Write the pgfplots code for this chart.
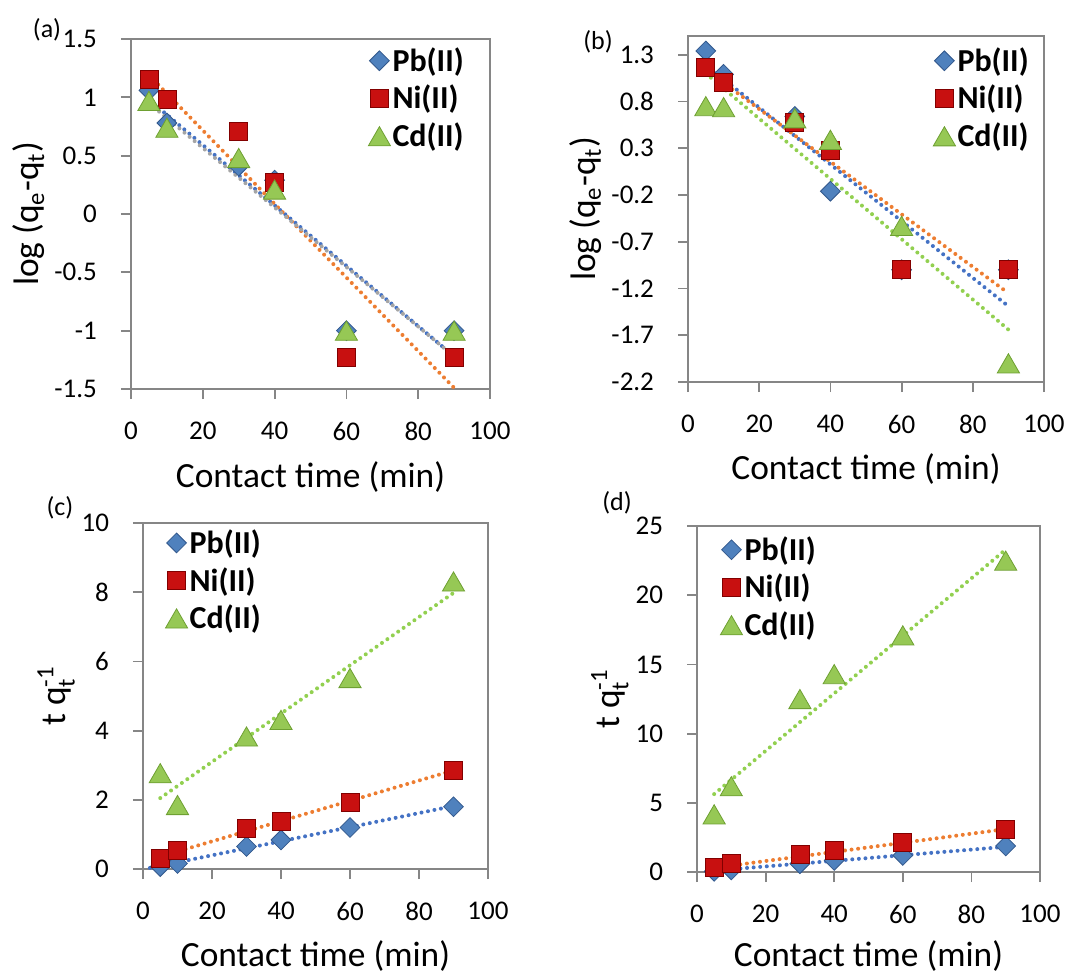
\documentclass[border=0pt]{standalone}
\usepackage{fontspec}
\setmainfont{Carlito}
\usepackage{amsmath}
\usepackage{pgfplots}
\pgfplotsset{compat=1.18}

\definecolor{axgray}{RGB}{134,134,134}
\definecolor{pbfill}{RGB}{79,129,189}
\definecolor{pbdraw}{RGB}{50,88,140}
\definecolor{nifill}{RGB}{200,16,16}
\definecolor{nidraw}{RGB}{130,0,0}
\definecolor{cdfill}{RGB}{150,200,85}
\definecolor{cddraw}{RGB}{110,160,50}
\definecolor{trblue}{RGB}{68,114,196}
\definecolor{trorange}{RGB}{237,125,49}
\definecolor{trgray}{RGB}{165,165,165}
\definecolor{trgreen}{RGB}{146,208,80}

\pgfplotsset{
  kin/.style={
    scale only axis,
    xmin=0, xmax=100, xtick={0,20,...,100},
    tick pos=left, tick align=outside, major tick length=5pt,
    axis line style={axgray, line width=0.9pt},
    every tick/.style={axgray, line width=0.9pt},
    /pgf/number format/assume math mode=true,
    tick label style={font=\fontsize{13.5}{16}\selectfont},
    xticklabel style={yshift=-8pt},
    yticklabel style={xshift=-8.5pt},
    label style={font=\fontsize{17.7}{20}\selectfont},
    xlabel={Contact time (min)},
    xlabel style={at={(axis description cs:0.5,-0.251)}, anchor=center},
    legend cell align=left,
    legend style={draw=none, fill=none, inner sep=0pt, anchor=north west,
      font=\fontsize{16}{18}\selectfont\bfseries, row sep=3.5pt,
      nodes={inner sep=1pt}},
    legend image code/.code={\draw[##1] plot coordinates {(0pt,0pt)};},
  },
  pb/.style={only marks, mark=square*, mark size=3.5pt,
    mark options={rotate=45, fill=pbfill, draw=pbdraw, line width=0.4pt}},
  ni/.style={only marks, mark=square*, mark size=4.5pt,
    mark options={fill=nifill, draw=nidraw, line width=0.4pt}},
  cd/.style={only marks, mark=triangle*, mark size=6.4pt,
    mark options={fill=cdfill, draw=cddraw, line width=0.4pt, yshift=-1.6pt}},
  trend/.style={line width=2pt, line cap=round, dash pattern=on 0pt off 3.3pt, forget plot},
}

\begin{document}
\begin{tikzpicture}
\useasboundingbox (0,0) rectangle (535pt,-487pt);

% (a) pseudo-first-order, sample 1
\begin{axis}[kin, at={(65.5pt,-194.5pt)}, anchor=south west,
    width=179.5pt, height=175pt,
    ymin=-1.5, ymax=1.5, ytick={-1.5,-1,...,1.5},
    ylabel={log (q$_{\text{e}}$-q$_{\text{t}}$)},
    ylabel style={at={(axis description cs:-0.284,0.5)}, anchor=center},
    legend style={at={(0.660,0.983)}}]
  \addplot[pb] coordinates {(5,1.06) (10,0.78) (30,0.41) (40,0.29) (60,-1.0) (90,-1.0)};
  \addplot[ni] coordinates {(5,1.15) (10,0.98) (30,0.71) (40,0.27) (60,-1.23) (90,-1.23)};
  \addplot[cd] coordinates {(5,0.97) (10,0.74) (30,0.48) (40,0.21) (60,-1.0) (90,-1.0)};
  \legend{Pb(II),Ni(II),Cd(II)}
  \addplot[trend, trblue] coordinates {(5,0.98) (90,-1.22)};
  \addplot[trend, trorange] coordinates {(5,1.19) (90,-1.49)};
  \addplot[trend, trgray] coordinates {(5,0.95) (90,-1.22)};
\end{axis}

% (b) pseudo-first-order, sample 2
\begin{axis}[kin, at={(344pt,-191pt)}, anchor=south west,
    width=178pt, height=173pt,
    ymin=-2.2, ymax=1.5, ytick={-2.2,-1.7,-1.2,-0.7,-0.2,0.3,0.8,1.3},
    yticklabels={-2.2,-1.7,-1.2,-0.7,-0.2,0.3,0.8,1.3},
    ylabel={log (q$_{\text{e}}$-q$_{\text{t}}$)},
    ylabel style={at={(axis description cs:-0.287,0.5)}, anchor=center},
    legend style={at={(0.688,0.974)}}]
  \addplot[pb] coordinates {(5,1.34) (10,1.09) (30,0.64) (40,-0.16) (60,-1.0) (90,-1.0)};
  \addplot[ni] coordinates {(5,1.16) (10,1.0) (30,0.58) (40,0.28) (60,-1.0) (90,-1.0)};
  \addplot[cd] coordinates {(5,0.75) (10,0.74) (30,0.62) (40,0.39) (60,-0.53) (90,-2.0)};
  \legend{Pb(II),Ni(II),Cd(II)}
  \addplot[trend, trblue] coordinates {(5,1.19) (90,-1.39)};
  \addplot[trend, trorange] coordinates {(5,1.14) (90,-1.25)};
  \addplot[trend, trgreen] coordinates {(5,1.10) (90,-1.64)};
\end{axis}

% (c) pseudo-second-order, sample 1
\begin{axis}[kin, at={(71.5pt,-434.5pt)}, anchor=south west,
    width=172.5pt, height=173pt,
    ymin=0, ymax=10, ytick={0,2,...,10},
    ylabel={t q$_{\text{t}}^{\text{-1}}$},
    ylabel style={at={(axis description cs:-0.252,0.5)}, anchor=center},
    legend style={at={(0.064,0.988)}}]
  \addplot[pb] coordinates {(5,0.07) (10,0.16) (30,0.65) (40,0.84) (60,1.2) (90,1.8)};
  \addplot[ni] coordinates {(5,0.31) (10,0.53) (30,1.18) (40,1.37) (60,1.92) (90,2.86)};
  \addplot[cd] coordinates {(5,2.77) (10,1.85) (30,3.83) (40,4.31) (60,5.52) (90,8.31)};
  \legend{Pb(II),Ni(II),Cd(II)}
  \addplot[trend, trblue] coordinates {(2,0.03) (90,1.82)};
  \addplot[trend, trorange] coordinates {(5,0.36) (90,2.85)};
  \addplot[trend, trgreen] coordinates {(5,2.05) (90,7.98)};
\end{axis}

% (d) pseudo-second-order, sample 2
\begin{axis}[kin, at={(348.5pt,-436pt)}, anchor=south west,
    width=171.5pt, height=173pt,
    ymin=0, ymax=25, ytick={0,5,...,25},
    ylabel={t q$_{\text{t}}^{\text{-1}}$},
    ylabel style={at={(axis description cs:-0.254,0.5)}, anchor=center},
    xlabel style={at={(axis description cs:0.5,-0.244)}},
    legend style={at={(0.067,0.977)}}]
  \addplot[pb] coordinates {(5,0.05) (10,0.15) (30,0.6) (40,0.84) (60,1.2) (90,1.88)};
  \addplot[ni] coordinates {(5,0.31) (10,0.6) (30,1.25) (40,1.57) (60,2.12) (90,3.08)};
  \addplot[cd] coordinates {(5,4.17) (10,6.2) (30,12.5) (40,14.3) (60,17.1) (90,22.5)};
  \legend{Pb(II),Ni(II),Cd(II)}
  \addplot[trend, trblue] coordinates {(5,0.1) (90,1.82)};
  \addplot[trend, trorange] coordinates {(5,0.3) (90,3.1)};
  \addplot[trend, trgreen] coordinates {(5,5.63) (90,23.3)};
\end{axis}

\node[font=\fontsize{13}{15}\selectfont] at (23.5pt,-15pt) {(a)};
\node[font=\fontsize{13}{15}\selectfont] at (299pt,-21pt) {(b)};
\node[font=\fontsize{13}{15}\selectfont] at (30pt,-254pt) {(c)};
\node[font=\fontsize{13}{15}\selectfont] at (308.5pt,-251.5pt) {(d)};
\end{tikzpicture}
\end{document}
